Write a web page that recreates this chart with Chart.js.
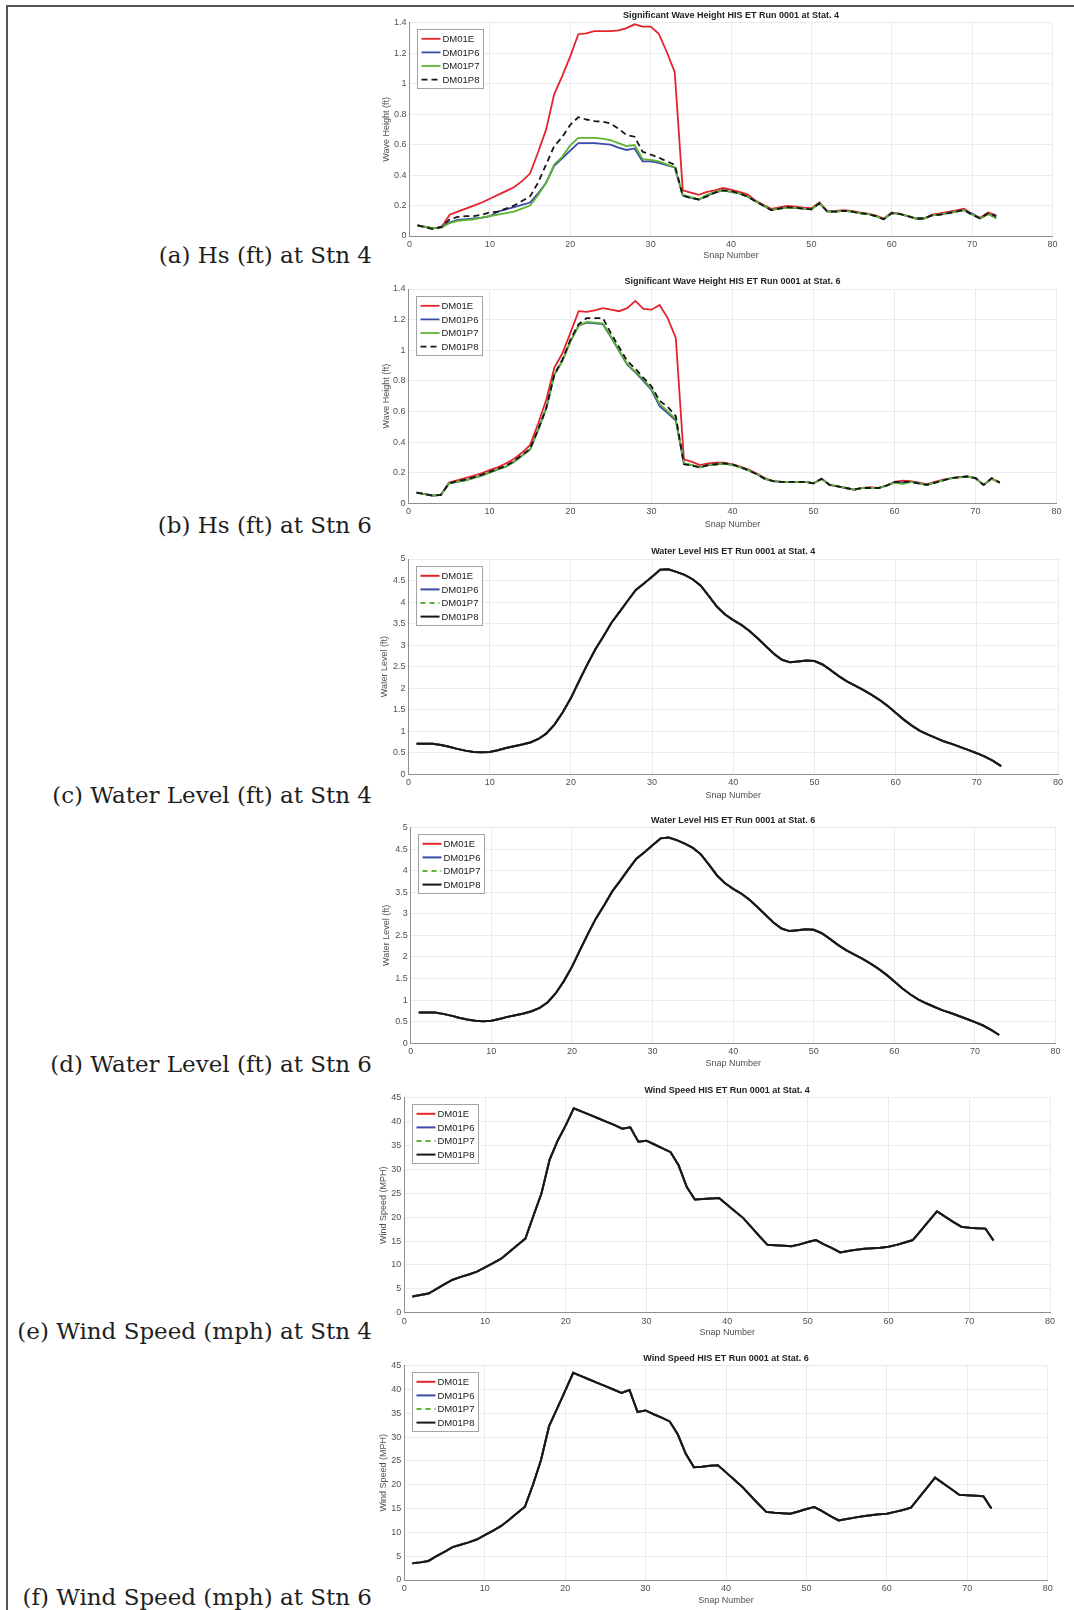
<!DOCTYPE html>
<html>
<head>
<meta charset="utf-8">
<script src="https://cdn.jsdelivr.net/npm/chart.js@4.4.1/dist/chart.umd.min.js"></script>
<style>
  html, body { margin: 0; padding: 0; background: #fff; }
  #page { position: relative; width: 1074px; height: 1610px; overflow: hidden; }
  .rule { position: absolute; background: #555; }
  .cap { position: absolute; right: 702px; font-family: 'DejaVu Serif', serif; font-size: 23px; line-height: 23px; color: #1e1e1e; white-space: nowrap; }
  canvas { position: absolute; }
</style>
</head>
<body>
<div id="page">
  <div class="rule" style="left:6px; top:5px; width:2px; height:1605px"></div>
  <div class="rule" style="left:6px; top:5px; width:1068px; height:2px"></div>

  <div class="cap" style="top:243.6px">(a) Hs (ft) at Stn 4</div>
  <div class="cap" style="top:513.6px">(b) Hs (ft) at Stn 6</div>
  <div class="cap" style="top:783.6px">(c) Water Level (ft) at Stn 4</div>
  <div class="cap" style="top:1052.6px">(d) Water Level (ft) at Stn 6</div>
  <div class="cap" style="top:1319.6px">(e) Wind Speed (mph) at Stn 4</div>
  <div class="cap" style="top:1585.6px">(f) Wind Speed (mph) at Stn 6</div>

  <canvas id="chartA"></canvas>
  <canvas id="chartB"></canvas>
  <canvas id="chartC"></canvas>
  <canvas id="chartD"></canvas>
  <canvas id="chartE"></canvas>
  <canvas id="chartF"></canvas>
</div>

<script>
// snap numbers (x axis)
const snaps = [1,2,3,4,5,6,7,8,9,10,11,12,13,14,15,16,17,18,19,20,21,22,23,24,25,26,27,28,29,30,
  31,32,33,34,35,36,37,38,39,40,41,42,43,44,45,46,47,48,49,50,51,52,53,54,55,56,57,58,59,60,
  61,62,63,64,65,66,67,68,69,70,71,72,73];

const seriesNames = ['DM01E', 'DM01P6', 'DM01P7', 'DM01P8'];

// tick labels
const snapTicks = [0, 10, 20, 30, 40, 50, 60, 70, 80];
const hsTicks = [0, 0.2, 0.4, 0.6, 0.8, 1, 1.2, 1.4];
const wlTicks = [0, 0.5, 1, 1.5, 2, 2.5, 3, 3.5, 4, 4.5, 5];
const wsTicks = [0, 5, 10, 15, 20, 25, 30, 35, 40, 45];

// significant wave height, Stat. 4 (ft)
const hs4E = [0.07,0.06,0.05,0.06,0.14,0.16,0.18,0.20,0.22,0.245,
  0.27,0.295,0.32,0.36,0.41,0.55,0.70,0.93,1.05,1.18,
  1.325,1.33,1.345,1.345,1.345,1.35,1.365,1.39,1.375,1.375,
  1.33,1.21,1.075,0.30,0.285,0.27,0.29,0.30,0.315,0.305,
  0.29,0.275,0.235,0.205,0.178,0.188,0.198,0.192,0.187,0.183,
  0.22,0.163,0.165,0.17,0.165,0.155,0.147,0.135,0.114,0.154,
  0.145,0.13,0.114,0.115,0.14,0.148,0.158,0.168,0.18,0.145,
  0.12,0.155,0.136];
const hs4P6 = [0.07,0.06,0.05,0.06,0.09,0.105,0.11,0.115,0.12,0.13,
  0.16,0.175,0.19,0.205,0.22,0.28,0.35,0.46,0.51,0.56,
  0.61,0.61,0.61,0.605,0.60,0.58,0.565,0.575,0.49,0.49,
  0.48,0.465,0.45,0.265,0.25,0.24,0.265,0.285,0.30,0.29,
  0.28,0.26,0.23,0.20,0.17,0.18,0.185,0.185,0.18,0.175,
  0.215,0.16,0.16,0.165,0.16,0.15,0.145,0.13,0.11,0.15,
  0.145,0.13,0.115,0.115,0.135,0.14,0.15,0.16,0.17,0.145,
  0.115,0.145,0.12];
const hs4P7 = [0.07,0.06,0.05,0.055,0.085,0.10,0.105,0.11,0.12,0.13,
  0.14,0.15,0.16,0.18,0.20,0.27,0.35,0.47,0.52,0.595,
  0.645,0.645,0.645,0.64,0.63,0.61,0.59,0.597,0.505,0.50,
  0.49,0.47,0.45,0.27,0.255,0.24,0.27,0.29,0.30,0.29,
  0.28,0.26,0.23,0.20,0.17,0.18,0.185,0.185,0.18,0.175,
  0.215,0.16,0.16,0.165,0.16,0.15,0.145,0.13,0.11,0.15,
  0.145,0.13,0.115,0.115,0.135,0.14,0.15,0.16,0.17,0.14,
  0.115,0.145,0.115];
const hs4P8 = [0.07,0.055,0.045,0.06,0.11,0.125,0.13,0.13,0.14,0.155,
  0.16,0.18,0.20,0.23,0.26,0.35,0.47,0.59,0.65,0.73,
  0.78,0.765,0.755,0.75,0.74,0.705,0.663,0.652,0.553,0.535,
  0.515,0.49,0.468,0.265,0.25,0.24,0.26,0.285,0.30,0.295,
  0.28,0.26,0.23,0.20,0.17,0.18,0.19,0.185,0.18,0.175,
  0.215,0.16,0.16,0.165,0.16,0.15,0.145,0.13,0.11,0.15,
  0.145,0.13,0.115,0.115,0.135,0.14,0.15,0.16,0.17,0.14,
  0.115,0.15,0.13];

// significant wave height, Stat. 6 (ft)
const hs6E = [0.07,0.06,0.05,0.055,0.135,0.15,0.165,0.18,0.195,0.217,
  0.235,0.26,0.29,0.33,0.38,0.52,0.675,0.885,0.98,1.115,
  1.255,1.25,1.26,1.275,1.265,1.255,1.275,1.322,1.27,1.265,
  1.295,1.21,1.08,0.287,0.27,0.25,0.26,0.265,0.266,0.255,
  0.24,0.22,0.195,0.165,0.145,0.14,0.14,0.14,0.14,0.13,
  0.16,0.12,0.11,0.10,0.088,0.10,0.105,0.10,0.115,0.14,
  0.148,0.145,0.135,0.126,0.14,0.155,0.163,0.172,0.174,0.163,
  0.12,0.161,0.135];
const hs6P6 = [0.07,0.06,0.05,0.055,0.13,0.14,0.15,0.165,0.18,0.20,
  0.22,0.24,0.27,0.31,0.35,0.48,0.62,0.84,0.93,1.06,
  1.16,1.18,1.175,1.17,1.085,0.995,0.905,0.855,0.80,0.74,
  0.635,0.59,0.54,0.26,0.25,0.235,0.25,0.255,0.26,0.25,
  0.235,0.215,0.19,0.16,0.145,0.14,0.14,0.14,0.14,0.13,
  0.16,0.12,0.11,0.10,0.09,0.10,0.10,0.10,0.115,0.135,
  0.135,0.14,0.13,0.12,0.135,0.15,0.165,0.17,0.175,0.165,
  0.12,0.16,0.135];
const hs6P7 = [0.07,0.06,0.05,0.055,0.13,0.14,0.15,0.165,0.18,0.20,
  0.22,0.24,0.27,0.31,0.35,0.48,0.62,0.84,0.93,1.06,
  1.16,1.185,1.18,1.175,1.09,1.00,0.91,0.86,0.81,0.75,
  0.65,0.60,0.55,0.26,0.25,0.235,0.25,0.255,0.26,0.25,
  0.235,0.215,0.19,0.16,0.145,0.14,0.14,0.14,0.14,0.13,
  0.16,0.12,0.11,0.10,0.09,0.10,0.10,0.10,0.115,0.135,
  0.125,0.14,0.13,0.12,0.135,0.15,0.165,0.17,0.175,0.165,
  0.12,0.16,0.135];
const hs6P8 = [0.07,0.06,0.05,0.055,0.13,0.145,0.155,0.17,0.185,0.205,
  0.225,0.245,0.275,0.315,0.355,0.48,0.62,0.84,0.94,1.07,
  1.17,1.21,1.21,1.21,1.11,1.02,0.93,0.88,0.82,0.765,
  0.67,0.63,0.57,0.255,0.245,0.235,0.25,0.255,0.26,0.255,
  0.235,0.215,0.19,0.16,0.145,0.14,0.14,0.14,0.14,0.13,
  0.16,0.12,0.11,0.10,0.09,0.10,0.10,0.10,0.115,0.14,
  0.14,0.14,0.13,0.12,0.135,0.15,0.165,0.17,0.175,0.165,
  0.12,0.165,0.135];

// water level (ft), all four runs overlap
const wl4 = [0.71,0.71,0.71,0.68,0.64,0.59,0.55,0.52,0.51,0.52,
  0.56,0.61,0.65,0.69,0.74,0.82,0.95,1.16,1.44,1.77,
  2.16,2.54,2.90,3.20,3.52,3.77,4.03,4.28,4.43,4.59,
  4.75,4.76,4.70,4.63,4.53,4.38,4.14,3.89,3.71,3.58,
  3.47,3.33,3.16,2.98,2.80,2.66,2.60,2.62,2.64,2.63,
  2.55,2.42,2.28,2.16,2.06,1.96,1.85,1.73,1.59,1.43,
  1.27,1.13,1.01,0.92,0.84,0.76,0.70,0.63,0.56,0.49,
  0.41,0.31,0.19];
const wl6 = [0.71,0.71,0.71,0.68,0.64,0.59,0.55,0.52,0.51,0.52,
  0.56,0.61,0.65,0.69,0.74,0.82,0.95,1.16,1.44,1.77,
  2.16,2.54,2.90,3.20,3.52,3.77,4.03,4.28,4.43,4.59,
  4.75,4.77,4.71,4.63,4.53,4.38,4.14,3.89,3.71,3.58,
  3.47,3.33,3.16,2.98,2.80,2.66,2.60,2.62,2.64,2.63,
  2.55,2.42,2.28,2.16,2.06,1.96,1.85,1.73,1.59,1.43,
  1.27,1.13,1.01,0.92,0.84,0.76,0.70,0.63,0.56,0.49,
  0.41,0.31,0.19];

// wind speed (MPH), all four runs overlap
const ws4 = [3.4,3.7,4.0,5.0,6.0,6.9,7.5,8.0,8.6,9.5,
  10.4,11.3,12.7,14.1,15.5,20.3,25.0,32.0,36.0,39.2,
  42.8,42.1,41.4,40.7,40.0,39.3,38.5,38.8,35.8,36.0,
  35.2,34.4,33.6,30.8,26.3,23.7,23.8,23.9,24.0,22.6,
  21.2,19.8,17.9,16.0,14.2,14.1,14.0,13.9,14.3,14.8,
  15.2,14.3,13.5,12.6,12.9,13.2,13.4,13.5,13.6,13.8,
  14.2,14.7,15.2,17.2,19.2,21.2,20.1,19.0,18.0,17.8,
  17.7,17.6,15.1];
const ws6 = [3.5,3.7,4.0,5.0,5.9,6.9,7.4,7.9,8.5,9.4,
  10.3,11.3,12.6,14.0,15.4,20.0,25.2,32.3,36.0,39.7,
  43.5,42.8,42.1,41.4,40.7,40.0,39.3,39.9,35.3,35.6,
  34.8,34.1,33.3,30.6,26.5,23.7,23.8,24.0,24.1,22.6,
  21.1,19.6,17.8,16.0,14.3,14.1,14.0,13.9,14.4,14.9,
  15.3,14.4,13.4,12.5,12.8,13.1,13.4,13.6,13.8,13.9,
  14.3,14.7,15.2,17.3,19.4,21.5,20.3,19.1,17.9,17.8,
  17.7,17.6,15.0];

// line styles, in series order
const hsStyles = [
  { color: '#e4232a', dash: [], width: 1.8 },
  { color: '#3b4ba8', dash: [], width: 1.8 },
  { color: '#5db332', dash: [], width: 1.8 },
  { color: '#161616', dash: [6, 4], width: 1.8 }
];
const lvlStyles = [
  { color: '#e4232a', dash: [], width: 2 },
  { color: '#3b4ba8', dash: [], width: 2 },
  { color: '#5db332', dash: [5, 4], width: 2 },
  { color: '#161616', dash: [], width: 2 }
];

Chart.defaults.font.family = "'Liberation Sans', Arial, sans-serif";

// title drawn just above the plot area
const plotTitle = {
  id: 'plotTitle',
  afterDraw(chart, args, opts) {
    const { ctx, chartArea } = chart;
    ctx.save();
    ctx.font = "bold 9px 'Liberation Sans', Arial, sans-serif";
    ctx.fillStyle = '#222';
    ctx.textAlign = 'center';
    ctx.textBaseline = 'middle';
    ctx.fillText(opts.text, (chartArea.left + chartArea.right) / 2, chartArea.top - 7);
    ctx.restore();
  }
};

// matlab-like legend box in the upper left corner of the axes
const boxLegend = {
  id: 'boxLegend',
  afterDraw(chart, args, opts) {
    const { ctx, chartArea } = chart;
    const sets = chart.data.datasets;
    ctx.save();
    ctx.font = "9.5px 'Liberation Sans', Arial, sans-serif";
    const textW = Math.max(...sets.map(d => ctx.measureText(d.label).width));
    const rowH = 13.6;
    const x = Math.round(chartArea.left + 7.5) + 0.5;
    const y = Math.round(chartArea.top + 6.5) + 0.5;
    const w = Math.round(textW + 29), h = Math.round(rowH * sets.length + 5);
    ctx.fillStyle = '#fff';
    ctx.fillRect(x, y, w, h);
    ctx.strokeStyle = '#a3a3a3';
    ctx.lineWidth = 1;
    ctx.strokeRect(x, y, w, h);
    sets.forEach((d, i) => {
      const cy = y + 2.5 + rowH * (i + 0.5);
      ctx.strokeStyle = d.borderColor;
      ctx.lineWidth = d.borderWidth;
      ctx.setLineDash(d.borderDash);
      ctx.beginPath();
      ctx.moveTo(x + 4, cy);
      ctx.lineTo(x + 23, cy);
      ctx.stroke();
      ctx.setLineDash([]);
      ctx.fillStyle = '#1a1a1a';
      ctx.textBaseline = 'middle';
      ctx.fillText(d.label, x + 25, cy + 0.5);
    });
    ctx.restore();
  }
};

function buildChart(id, g, title, yLabel, yTicks, values, styles) {
  const lh = 9 * 1.2;
  const titleLeft = g.yTitleX - lh / 2;
  const cl = Math.floor(titleLeft), ct = Math.floor(g.T - 16);
  const cr = Math.ceil(g.R + 10), cb = Math.ceil(g.xTitleY + lh / 2);
  const canvas = document.getElementById(id);
  canvas.width = cr - cl;
  canvas.height = cb - ct;
  canvas.style.left = cl + 'px';
  canvas.style.top = ct + 'px';

  const tickFont = { size: 9 };
  return new Chart(canvas, {
    type: 'line',
    data: {
      datasets: seriesNames.map((name, i) => ({
        label: name,
        data: snaps.map((s, k) => ({ x: s, y: values[i][k] })),
        borderColor: styles[i].color,
        borderDash: styles[i].dash,
        borderWidth: styles[i].width,
        pointRadius: 0,
        tension: 0,
        fill: false,
        order: 4 - i
      }))
    },
    options: {
      responsive: false,
      animation: false,
      events: [],
      layout: {
        autoPadding: false,
        padding: { left: titleLeft - cl, top: g.T - ct, right: cr - g.R, bottom: cb - (g.xTitleY + lh / 2) }
      },
      plugins: {
        legend: { display: false },
        tooltip: { enabled: false },
        plotTitle: { text: title }
      },
      scales: {
        x: {
          type: 'linear', min: 0, max: 80,
          afterBuildTicks: s => { s.ticks = snapTicks.map(v => ({ value: v })); },
          afterFit: s => { s.height = g.xTitleY + lh / 2 - g.B; },
          grid: { color: '#ebebeb', drawTicks: false },
          border: { color: '#8f8f8f' },
          ticks: { padding: 3, color: '#505050', font: tickFont, maxRotation: 0, autoSkip: false, callback: v => String(v) },
          title: { display: true, text: 'Snap Number', color: '#505050', font: tickFont, padding: 0 }
        },
        y: {
          type: 'linear', min: yTicks[0], max: yTicks[yTicks.length - 1],
          afterBuildTicks: s => { s.ticks = yTicks.map(v => ({ value: v })); },
          afterFit: s => { s.width = g.L - titleLeft; },
          grid: { color: '#ebebeb', drawTicks: false },
          border: { color: '#8f8f8f' },
          ticks: { padding: 3, color: '#505050', font: tickFont, autoSkip: false, callback: v => String(v) },
          title: { display: true, text: yLabel, color: '#505050', font: tickFont, padding: 0 }
        }
      }
    },
    plugins: [plotTitle, boxLegend]
  });
}

buildChart('chartA', { L: 409.5, R: 1052.5, T: 22.8, B: 236, yTitleX: 386.7, xTitleY: 256 },
  'Significant Wave Height HIS ET Run 0001 at Stat. 4', 'Wave Height (ft)', hsTicks,
  [hs4E, hs4P6, hs4P7, hs4P8], hsStyles);
buildChart('chartB', { L: 408.5, R: 1056.5, T: 289, B: 503.3, yTitleX: 386.7, xTitleY: 525 },
  'Significant Wave Height HIS ET Run 0001 at Stat. 6', 'Wave Height (ft)', hsTicks,
  [hs6E, hs6P6, hs6P7, hs6P8], hsStyles);
buildChart('chartC', { L: 408.5, R: 1058, T: 559, B: 774.3, yTitleX: 385, xTitleY: 796 },
  'Water Level HIS ET Run 0001 at Stat. 4', 'Water Level (ft)', wlTicks,
  [wl4, wl4, wl4, wl4], lvlStyles);
buildChart('chartD', { L: 410.7, R: 1055.6, T: 827.6, B: 1043.2, yTitleX: 387, xTitleY: 1064 },
  'Water Level HIS ET Run 0001 at Stat. 6', 'Water Level (ft)', wlTicks,
  [wl6, wl6, wl6, wl6], lvlStyles);
buildChart('chartE', { L: 404.3, R: 1050, T: 1097.7, B: 1312.7, yTitleX: 384, xTitleY: 1333 },
  'Wind Speed HIS ET Run 0001 at Stat. 4', 'Wind Speed (MPH)', wsTicks,
  [ws4, ws4, ws4, ws4], lvlStyles);
buildChart('chartF', { L: 404.3, R: 1047.7, T: 1365.7, B: 1580, yTitleX: 383.5, xTitleY: 1601 },
  'Wind Speed HIS ET Run 0001 at Stat. 6', 'Wind Speed (MPH)', wsTicks,
  [ws6, ws6, ws6, ws6], lvlStyles);
</script>
</body>
</html>
